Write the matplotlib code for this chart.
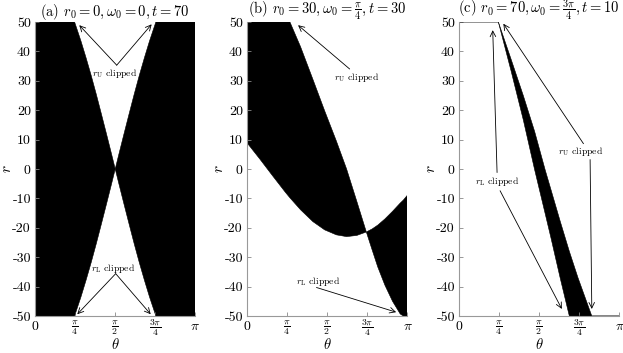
import numpy as np
import matplotlib
matplotlib.use('Agg')
import matplotlib.pyplot as plt

plt.rcParams['font.family'] = 'serif'
plt.rcParams['font.serif'] = ['cmr10', 'DejaVu Serif']
plt.rcParams['mathtext.fontset'] = 'cm'
plt.rcParams['axes.unicode_minus'] = False
plt.rcParams['axes.formatter.use_mathtext'] = True

# (a) r0=0, w0=0, t=70
theta_a = [0.0, 0.775, 0.9, 1.0, 1.1, 1.2, 1.3, 1.4, 1.5, 1.571, 1.642, 1.742,
           1.842, 1.942, 2.042, 2.142, 2.242, 2.367, 3.1416]
rU_a = [50, 50, 43.5, 37.8, 31.8, 25.4, 18.7, 11.9, 5.0, 0.0, 5.0, 11.9,
        18.7, 25.4, 31.8, 37.8, 43.5, 50, 50]
rL_a = [-50, -50, -43.5, -37.8, -31.8, -25.4, -18.7, -11.9, -5.0, 0.0, -5.0, -11.9,
        -18.7, -25.4, -31.8, -37.8, -43.5, -50, -50]

# (b) r0=30, w0=pi/4, t=30
theta_b = [0.0, 0.25, 0.5, 0.75, 0.84, 1.05, 1.29, 1.52, 1.75, 1.95, 2.15,
           2.34, 2.45, 2.56, 2.70, 2.85, 3.0, 3.06, 3.1416]
rU_b = [50, 50, 50, 50, 50, 41.5, 30.5, 19.8, 9.5, 0.0, -11.0,
        -21.6, -27.5, -33.3, -39.5, -45.0, -49.3, -50, -50]
rL_b = [8.9, 3.4, -2.3, -7.9, -9.8, -13.9, -17.9, -20.7, -22.4, -23.0, -22.6,
        -21.4, -20.4, -19.1, -17.0, -14.4, -11.6, -10.6, -8.9]

# (c) r0=70, w0=3pi/4, t=10
theta_c = [0.0, 0.77, 1.02, 1.26, 1.48, 1.69, 1.80, 1.98, 2.16, 2.33, 2.60, 3.1416]
rU_c = [50, 50, 37.3, 24.9, 12.8, -0.5, -7.0, -17.7, -28.0, -37.0, -50, -50]
rL_c = [50, 50, 33.3, 16.6, -0.2, -15.4, -23.4, -37.0, -50, -50, -50, -50]

titles = [r'(a) $r_0 = 0, \omega_0 = 0, t = 70$',
          r'(b) $r_0 = 30, \omega_0 = \frac{\pi}{4}, t = 30$',
          r'(c) $r_0 = 70, \omega_0 = \frac{3\pi}{4}, t = 10$']

xticks = [0, np.pi / 4, np.pi / 2, 3 * np.pi / 4, np.pi]
xticklabels = ['0', r'$\frac{\pi}{4}$', r'$\frac{\pi}{2}$', r'$\frac{3\pi}{4}$', r'$\pi$']
yticks = [50, 40, 30, 20, 10, 0, -10, -20, -30, -40, -50]
yticklabels = ['50', '40', '30', '20', '10', '0', '-10', '-20', '-30', '-40', '-50']

# annotations: (label, text pos, [(tail, tip), ...])
notes_a = [(r'$r_\mathrm{U}$ clipped', (1.566, 32.5), [((1.6, 35.3), (0.867, 48.9)), ((1.6, 35.3), (2.284, 49.2))]),
           (r'$r_\mathrm{L}$ clipped', (1.54, -33.9), [((1.58, -35.6), (0.828, -49.4)), ((1.58, -35.6), (2.265, -49.4))])]
notes_b = [(r'$r_\mathrm{U}$ clipped', (2.14, 31.1), [((2.01, 34.0), (1.0, 48.9))]),
           (r'$r_\mathrm{L}$ clipped', (1.39, -38.1), [((1.36, -40.3), (2.92, -48.7))])]
notes_c = [(r'$r_\mathrm{L}$ clipped', (0.755, -4.1), [((0.745, -1.2), (0.66, 47.2)), ((0.804, -7.4), (2.013, -47.6))]),
           (r'$r_\mathrm{U}$ clipped', (2.39, 6.0), [((2.437, 8.6), (0.868, 49.4)), ((2.567, 3.2), (2.60, -47.6))])]

fig = plt.figure(figsize=(6.23, 3.53), dpi=100)
lefts = [0.0562, 0.3965, 0.7368]
data = [(theta_a, rU_a, rL_a, notes_a), (theta_b, rU_b, rL_b, notes_b), (theta_c, rU_c, rL_c, notes_c)]

for i, (th, ru, rl, notes) in enumerate(data):
    ax = fig.add_axes([lefts[i], 0.1048, 0.2575, 0.8330])
    ax.fill_between(th, rl, ru, facecolor='black', edgecolor='none')
    ax.plot(th, ru, color='black', lw=0.4)
    ax.plot(th, rl, color='black', lw=0.4)
    ax.set_xlim(0, np.pi)
    ax.set_ylim(-50, 50)
    ax.set_xticks(xticks)
    ax.set_xticklabels(xticklabels, fontsize=10, va='center')
    ax.set_yticks(yticks)
    ax.set_yticklabels(yticklabels, fontsize=10)
    ax.tick_params(direction='in', length=3, width=0.6, color='#888888', pad=3)
    ax.tick_params(axis='x', pad=8)
    for s in ['top', 'right']:
        ax.spines[s].set_visible(False)
    for s in ['left', 'bottom']:
        ax.spines[s].set_color('#999999')
        ax.spines[s].set_linewidth(0.8)
    ax.set_xlabel(r'$\theta$', fontsize=10.5)
    ax.xaxis.set_label_coords(0.5, -0.07)
    ax.set_ylabel(r'$r$', fontsize=11)
    ax.yaxis.set_label_coords(-0.13, 0.5)
    ax.set_title(titles[i], fontsize=10.5, pad=-1.5)
    for label, pos, arrows in notes:
        ax.text(pos[0], pos[1], label, fontsize=7, ha='center', va='center')
        for tail, tip in arrows:
            ax.annotate('', xy=tip, xytext=tail,
                        arrowprops=dict(arrowstyle='->', color='black', lw=0.6,
                                        shrinkA=0, shrinkB=0))

fig.savefig('out.png', dpi=100)
